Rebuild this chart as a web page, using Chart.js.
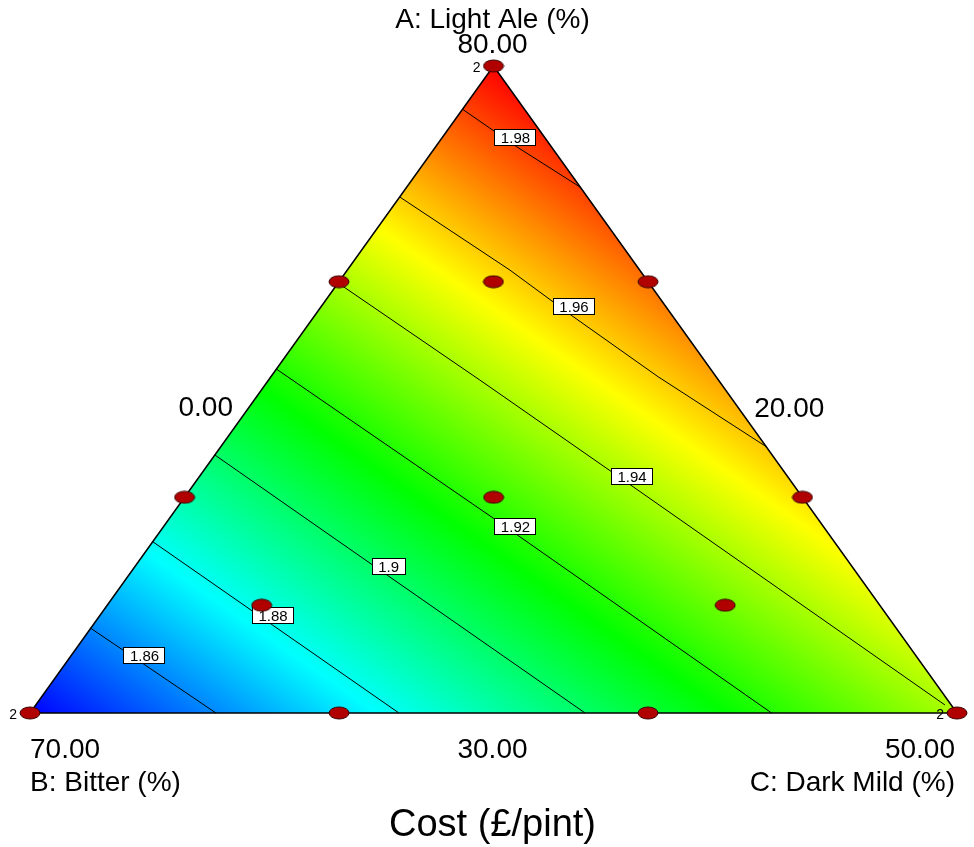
<!DOCTYPE html>
<html>
<head>
<meta charset="utf-8">
<script src="https://cdn.jsdelivr.net/npm/chart.js@4.4.1/dist/chart.umd.min.js"></script>
<style>
html,body{margin:0;padding:0;background:#ffffff;}
#wrap{width:974px;height:847px;position:relative;}
</style>
</head>
<body>
<div id="wrap"><canvas id="c" width="974" height="847"></canvas></div>
<script>
// ---------- DATA ----------
// Mixture components (real %), A + B + C = 100
const componentNames = ['A: Light Ale (%)', 'B: Bitter (%)', 'C: Dark Mild (%)'];
const componentLow  = [30, 20, 0];
const componentHigh = [80, 70, 50];
const vertexTickLabels = ['80.00', '70.00', '50.00'];   // at vertices A, B, C
const edgeTickLabels   = ['30.00', '20.00', '0.00'];    // low of A (bottom), B (right), C (left)
const responseTitle = 'Cost (£/pint)';

// Design points (A %, C %), B = 100 - A - C
const designA = [80, 30, 30, 63.33, 46.67, 63.33, 46.67, 30, 30, 63.33, 46.67, 38.33, 38.33];
const designC = [0, 0, 50, 0, 0, 16.67, 33.33, 16.67, 33.33, 8.33, 16.67, 8.33, 33.33];
const designReplicates = [2, 2, 2, 1, 1, 1, 1, 1, 1, 1, 1, 1, 1];

// Contour levels and points (A %, C %)
const contourLevels = [1.86, 1.88, 1.90, 1.92, 1.94, 1.96, 1.98];
const contourA = [
  [36.55, 30.00],
  [43.24, 30.00],
  [49.94, 43.37, 30.00],
  [56.58, 45.05, 30.00],
  [63.23, 55.73, 47.49, 30.62],
  [69.88, 64.23, 60.64, 55.99, 50.58],
  [76.66, 73.76, 70.63]
];
const contourC = [
  [0.00, 10.03],
  [0.00, 19.90],
  [0.00, 9.86, 29.94],
  [0.00, 17.47, 40.00],
  [0.00, 11.40, 23.78, 49.04],
  [0.00, 8.77, 13.97, 20.88, 29.42],
  [0.00, 4.37, 9.37]
];
const contourLabelText = ['1.86', '1.88', '1.9', '1.92', '1.94', '1.96', '1.98'];
const contourLabelA = [34.41, 37.54, 41.32, 44.41, 48.24, 61.38, 74.47];
const contourLabelC = [3.97, 9.34, 13.68, 18.98, 23.35, 13.65, 3.95];

// Estimated cost at the vertices (A-vertex, B-vertex, C-vertex) and colour-map range
const vertexCost = [1.99, 1.84, 1.94];
const colourRange = [1.84, 1.99];
const colourStops = ['#0000ff', '#00ffff', '#00ff00', '#ffff00', '#ff0000'];

// ---------- HELPERS ----------
function toXY(A, C) {
  const a = (A - componentLow[0]) / (componentHigh[0] - componentLow[0]);
  const c = (C - componentLow[2]) / (componentHigh[2] - componentLow[2]);
  return { x: c + a / 2, y: a };
}
const vA = toXY(componentHigh[0], componentLow[2]);            // top
const vB = toXY(componentLow[0], componentLow[2]);             // bottom-left
const vC = toXY(componentLow[0], componentHigh[2]);            // bottom-right

function makeMarker() {
  const cv = document.createElement('canvas');
  cv.width = 22; cv.height = 14;
  const g = cv.getContext('2d');
  g.beginPath();
  g.ellipse(11, 7, 10, 6, 0, 0, Math.PI * 2);
  g.fillStyle = '#b00000';
  g.fill();
  g.lineWidth = 1;
  g.strokeStyle = '#3a0000';
  g.stroke();
  return cv;
}
const markerImg = makeMarker();

const FONT = '"Liberation Sans", Arial, Helvetica, sans-serif';

// ---------- DATASETS ----------
const datasets = [];
datasets.push({
  label: 'design',
  data: designA.map((A, i) => toXY(A, designC[i])),
  pointStyle: markerImg,
  pointRadius: 10,
  showLine: false,
  order: 1
});
datasets.push({
  label: 'triangle',
  data: [vA, vB, vC, vA],
  showLine: true,
  borderColor: '#000000',
  borderWidth: 1.5,
  pointRadius: 0,
  fill: false,
  tension: 0,
  order: 2
});
contourLevels.forEach((lv, k) => {
  datasets.push({
    label: 'contour ' + lv,
    data: contourA[k].map((A, i) => toXY(A, contourC[k][i])),
    showLine: true,
    borderColor: '#000000',
    borderWidth: 1,
    pointRadius: 0,
    tension: 0,
    order: 3
  });
});

// ---------- PLUGINS ----------
const surfacePlugin = {
  id: 'surface',
  beforeDatasetsDraw(chart) {
    const xs = chart.scales.x, ys = chart.scales.y, ctx = chart.ctx;
    const P = [vA, vB, vC].map(v => ({ x: xs.getPixelForValue(v.x), y: ys.getPixelForValue(v.y) }));
    const f = vertexCost;
    // solve gradient g such that g·(Pi-P0) = fi - f0
    const d1x = P[1].x - P[0].x, d1y = P[1].y - P[0].y;
    const d2x = P[2].x - P[0].x, d2y = P[2].y - P[0].y;
    const r1 = f[1] - f[0], r2 = f[2] - f[0];
    const det = d1x * d2y - d1y * d2x;
    const gx = (r1 * d2y - r2 * d1y) / det;
    const gy = (d1x * r2 - d2x * r1) / det;
    const g2 = gx * gx + gy * gy;
    const t0 = (colourRange[0] - f[0]) / g2, t1 = (colourRange[1] - f[0]) / g2;
    const grad = ctx.createLinearGradient(P[0].x + gx * t0, P[0].y + gy * t0, P[0].x + gx * t1, P[0].y + gy * t1);
    colourStops.forEach((c, i) => grad.addColorStop(i / (colourStops.length - 1), c));
    ctx.save();
    ctx.beginPath();
    ctx.moveTo(P[0].x, P[0].y);
    ctx.lineTo(P[1].x, P[1].y);
    ctx.lineTo(P[2].x, P[2].y);
    ctx.closePath();
    ctx.fillStyle = grad;
    ctx.fill();
    ctx.restore();
  },
  afterDatasetDraw(chart, args) {
    if (args.index !== 1) return; // after triangle outline, before markers
    const xs = chart.scales.x, ys = chart.scales.y, ctx = chart.ctx;
    ctx.save();
    ctx.font = '15px ' + FONT;
    ctx.textAlign = 'center';
    ctx.textBaseline = 'middle';
    contourLabelText.forEach((t, i) => {
      const p = toXY(contourLabelA[i], contourLabelC[i]);
      const px = xs.getPixelForValue(p.x), py = ys.getPixelForValue(p.y);
      const w = Math.round(ctx.measureText(t).width + 13), h = 17;
      const x0 = Math.round(px - w / 2), y0 = Math.round(py - h / 2);
      ctx.fillStyle = '#ffffff';
      ctx.fillRect(x0, y0, w, h);
      ctx.strokeStyle = '#000000';
      ctx.lineWidth = 1;
      ctx.strokeRect(x0 + 0.5, y0 + 0.5, w - 1, h - 1);
      ctx.fillStyle = '#000000';
      ctx.fillText(t, px, py + 1);
    });
    ctx.restore();
  },
  afterDraw(chart) {
    const xs = chart.scales.x, ys = chart.scales.y, ctx = chart.ctx;
    const T = { x: xs.getPixelForValue(vA.x), y: ys.getPixelForValue(vA.y) };
    const L = { x: xs.getPixelForValue(vB.x), y: ys.getPixelForValue(vB.y) };
    const R = { x: xs.getPixelForValue(vC.x), y: ys.getPixelForValue(vC.y) };
    ctx.save();
    ctx.fillStyle = '#000000';
    ctx.textBaseline = 'alphabetic';
    // replicate labels
    ctx.font = '14px ' + FONT;
    ctx.textAlign = 'right';
    designReplicates.forEach((r, i) => {
      if (r < 2) return;
      const p = toXY(designA[i], designC[i]);
      const px = xs.getPixelForValue(p.x), py = ys.getPixelForValue(p.y);
      ctx.fillText(String(r), px - 13, py + 6);
    });
    ctx.font = '28px ' + FONT;
    // top vertex
    ctx.textAlign = 'center';
    ctx.fillText(componentNames[0], T.x - 1, T.y - 38);
    ctx.fillText(vertexTickLabels[0], T.x - 1, T.y - 13);
    // edges
    ctx.fillText(edgeTickLabels[2], (T.x + L.x) / 2 - 56, (T.y + L.y) / 2 + 26);
    ctx.fillText(edgeTickLabels[1], (T.x + R.x) / 2 + 64, (T.y + R.y) / 2 + 27);
    ctx.fillText(edgeTickLabels[0], (L.x + R.x) / 2 - 1, L.y + 45);
    // bottom vertices
    ctx.textAlign = 'left';
    ctx.fillText(vertexTickLabels[1], L.x, L.y + 45);
    ctx.fillText(componentNames[1], L.x, L.y + 78);
    ctx.textAlign = 'right';
    ctx.fillText(vertexTickLabels[2], R.x - 2, R.y + 45);
    ctx.fillText(componentNames[2], R.x - 2, R.y + 78);
    // response title
    ctx.textAlign = 'center';
    ctx.font = '38px ' + FONT;
    ctx.fillText(responseTitle, (L.x + R.x) / 2 - 1, L.y + 123);
    ctx.restore();
  }
};

// ---------- CHART ----------
new Chart(document.getElementById('c'), {
  type: 'scatter',
  data: { datasets },
  options: {
    responsive: false,
    devicePixelRatio: 1,
    animation: false,
    events: [],
    layout: { autoPadding: false, padding: 0 },
    plugins: { legend: { display: false }, tooltip: { enabled: false }, title: { display: false } },
    scales: {
      x: { type: 'linear', min: -30 / 927, max: 944 / 927, display: false },
      y: { type: 'linear', min: -134 / 647, max: 713 / 647, display: false }
    }
  },
  plugins: [surfacePlugin]
});
</script>
</body>
</html>
